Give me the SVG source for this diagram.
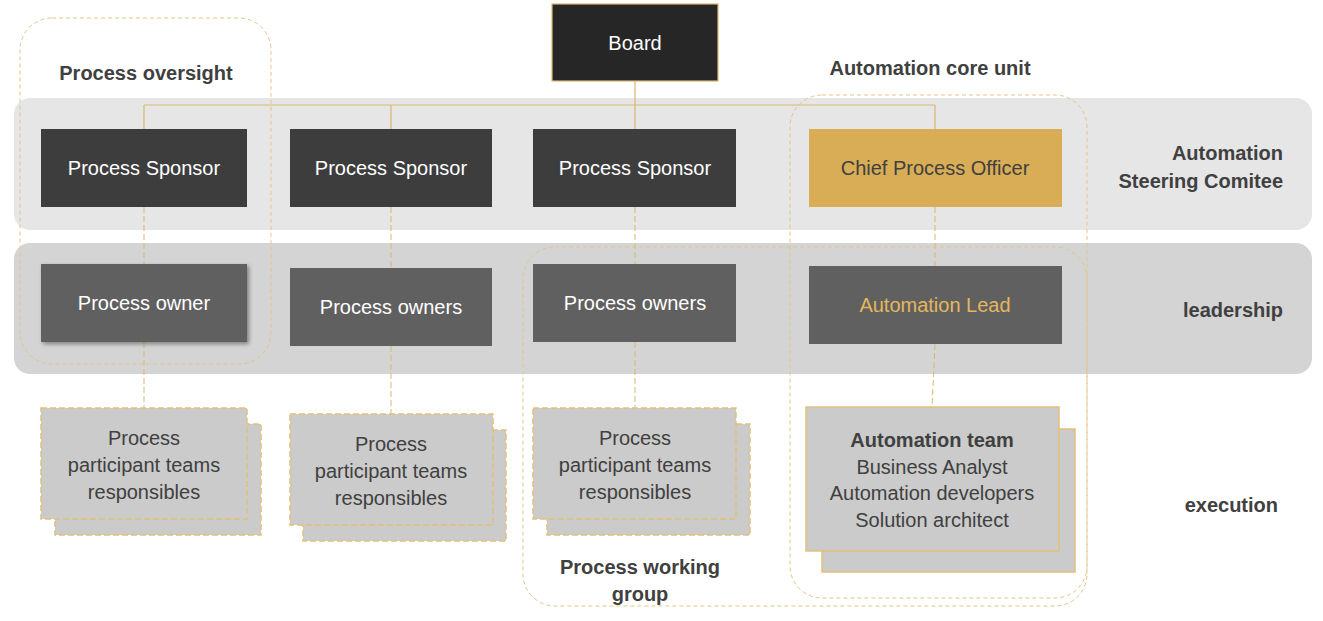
<svg xmlns="http://www.w3.org/2000/svg" width="1323" height="621" viewBox="0 0 1323 621">
<style>
text{font-family:"Liberation Sans",Arial,sans-serif;}
.w{fill:#fff;font-size:20px;text-anchor:middle}
.t{fill:#404040;font-size:20px;text-anchor:middle}
.b{fill:#404040;font-size:20px;font-weight:bold}
.sp{fill:#3d3d3d}
.ow{fill:#606060}
.grp{fill:none;stroke:#e2c588;stroke-width:1;stroke-dasharray:4 3}
.tb{fill:#cbcbcb;stroke:#e2c07a;stroke-width:1.5;stroke-dasharray:6 3}
.dl{stroke:#d9b770;stroke-width:1;stroke-dasharray:6 3;fill:none}
.sl{stroke:#d9b770;stroke-width:1.2;fill:none}
</style>
<defs><filter id="sh" x="-10%" y="-10%" width="130%" height="130%"><feDropShadow dx="2" dy="2" stdDeviation="2" flood-opacity="0.4"/></filter></defs>
<rect x="14" y="98" width="1298" height="132" rx="16" fill="#e6e6e6"/>
<rect x="14" y="243" width="1298" height="131" rx="16" fill="#d4d4d4"/>
<g id="connectors">
<path class="sl" d="M635 81V105M144 105H935M144 105V129M391 105V129M635 105V129M935 105V129"/>
<path class="dl" d="M144 207V264M144 342V408M391 207V268M391 346V414M635 207V264M635 342V408M935 207V266M935 344L932 407"/>
</g>
<g id="board"><rect x="552" y="4" width="166" height="77" fill="#262626" stroke="#d9b770" stroke-width="1.2"/><text class="w" x="635" y="50">Board</text></g>
<g id="sponsor1"><rect class="sp" x="41" y="129" width="206" height="78"/><text class="w" x="144" y="175">Process  Sponsor</text></g>
<g id="sponsor2"><rect class="sp" x="290" y="129" width="202" height="78"/><text class="w" x="391" y="175">Process  Sponsor</text></g>
<g id="sponsor3"><rect class="sp" x="533" y="129" width="203" height="78"/><text class="w" x="635" y="175">Process  Sponsor</text></g>
<g id="cpo"><rect x="809" y="129" width="253" height="78" fill="#d8ad55"/><text class="t" x="935" y="175">Chief Process Officer</text></g>
<g id="owner1"><rect class="ow" x="41" y="264" width="206" height="78" filter="url(#sh)"/><text class="w" x="144" y="310">Process owner</text></g>
<g id="owners2"><rect class="ow" x="290" y="268" width="202" height="78"/><text class="w" x="391" y="314">Process owners</text></g>
<g id="owners3"><rect class="ow" x="533" y="264" width="203" height="78"/><text class="w" x="635" y="310">Process owners</text></g>
<g id="lead"><rect class="ow" x="809" y="266" width="253" height="78"/><text x="935" y="312" style="fill:#e3b75c;font-size:20px;text-anchor:middle">Automation Lead</text></g>
<g id="team1"><rect class="tb" x="55" y="424" width="206" height="111"/><rect class="tb" x="41" y="408" width="206" height="111"/><text class="t" x="144" y="445">Process</text><text class="t" x="144" y="472">participant teams</text><text class="t" x="144" y="499">responsibles</text></g>
<g id="team2"><rect class="tb" x="303" y="430" width="203" height="111"/><rect class="tb" x="290" y="414" width="203" height="111"/><text class="t" x="391" y="451">Process</text><text class="t" x="391" y="478">participant teams</text><text class="t" x="391" y="505">responsibles</text></g>
<g id="team3"><rect class="tb" x="547" y="424" width="203" height="111"/><rect class="tb" x="533" y="408" width="203" height="111"/><text class="t" x="635" y="445">Process</text><text class="t" x="635" y="472">participant teams</text><text class="t" x="635" y="499">responsibles</text></g>
<g id="autoteam"><rect x="822" y="429" width="253" height="143" fill="#cbcbcb" stroke="#e2c07a" stroke-width="1.5"/><rect x="806" y="407" width="253" height="144" fill="#cbcbcb" stroke="#e2c07a" stroke-width="1.5"/><text class="t" x="932" y="447" font-weight="bold">Automation team</text><text class="t" x="932" y="474">Business Analyst</text><text class="t" x="932" y="500">Automation developers</text><text class="t" x="932" y="527">Solution architect</text></g>
<g id="oversight"><rect class="grp" x="20" y="18" width="251" height="346" rx="32"/><text class="b" x="146" y="80" text-anchor="middle">Process oversight</text></g>
<g id="coreunit"><rect class="grp" x="790" y="95" width="297" height="503" rx="32"/><text class="b" x="930" y="75" text-anchor="middle">Automation core unit</text></g>
<g id="workinggroup"><rect class="grp" x="523" y="247" width="564" height="359" rx="32"/><text class="b" x="640" y="574" text-anchor="middle">Process working</text><text class="b" x="640" y="601" text-anchor="middle">group</text></g>
<g id="labels">
<text class="b" x="1283" y="160" text-anchor="end">Automation</text>
<text class="b" x="1283" y="188" text-anchor="end">Steering Comitee</text>
<text class="b" x="1283" y="317" text-anchor="end">leadership</text>
<text class="b" x="1278" y="512" text-anchor="end">execution</text>
</g>
</svg>
